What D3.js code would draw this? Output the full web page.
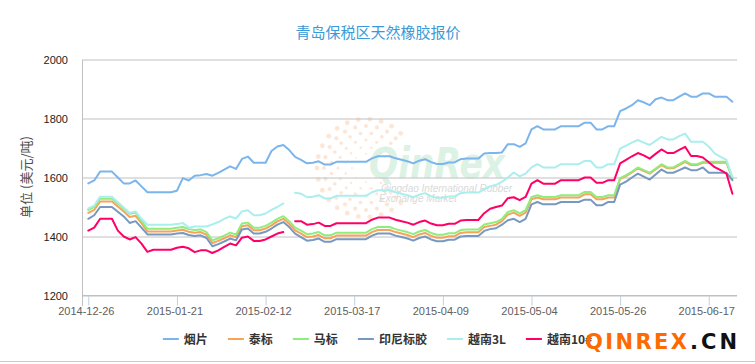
<!DOCTYPE html>
<html>
<head>
<meta charset="utf-8">
<title>青岛保税区天然橡胶报价</title>
<script src="https://cdn.jsdelivr.net/npm/d3@7"></script>
<style>
  body { margin: 0; background: #fff; }
  svg { display: block; font-family: "Liberation Sans", Arial, "Noto Sans CJK SC", sans-serif; }
</style>
</head>
<body>
<script>
// trading days (category axis), a label every 15 points
var dates = [
  "2014-12-26","2014-12-29","2014-12-30","2015-01-05","2015-01-06","2015-01-07","2015-01-08","2015-01-09","2015-01-12","2015-01-13",
  "2015-01-14","2015-01-15","2015-01-16","2015-01-19","2015-01-20","2015-01-21","2015-01-22","2015-01-23","2015-01-26","2015-01-27",
  "2015-01-28","2015-01-29","2015-01-30","2015-02-02","2015-02-03","2015-02-04","2015-02-05","2015-02-06","2015-02-09","2015-02-10",
  "2015-02-12","2015-02-13","2015-02-16","2015-02-17","2015-02-25","2015-02-26","2015-02-27","2015-03-02","2015-03-03","2015-03-04",
  "2015-03-05","2015-03-06","2015-03-10","2015-03-12","2015-03-16","2015-03-17","2015-03-18","2015-03-19","2015-03-20","2015-03-23",
  "2015-03-24","2015-03-25","2015-03-26","2015-03-27","2015-03-30","2015-03-31","2015-04-01","2015-04-02","2015-04-03","2015-04-08",
  "2015-04-09","2015-04-10","2015-04-13","2015-04-14","2015-04-15","2015-04-16","2015-04-17","2015-04-20","2015-04-21","2015-04-22",
  "2015-04-23","2015-04-24","2015-04-27","2015-04-28","2015-04-29","2015-05-04","2015-05-05","2015-05-06","2015-05-07","2015-05-08",
  "2015-05-11","2015-05-12","2015-05-13","2015-05-14","2015-05-15","2015-05-18","2015-05-19","2015-05-20","2015-05-21","2015-05-22",
  "2015-05-26","2015-05-27","2015-05-28","2015-05-29","2015-06-01","2015-06-02","2015-06-03","2015-06-04","2015-06-05","2015-06-08",
  "2015-06-09","2015-06-10","2015-06-11","2015-06-12","2015-06-15","2015-06-17","2015-06-18","2015-06-19","2015-06-23","2015-06-24"
];
var tickDates = ["2014-12-26","2015-01-21","2015-02-12","2015-03-17","2015-04-09","2015-05-04","2015-05-26","2015-06-17"];
var yTicks = [1200, 1400, 1600, 1800, 2000];

var names = ["烟片", "泰标", "马标", "印尼标胶", "越南3L", "越南10#"];
var colors = ["#7cb5ec", "#f7a35c", "#90ed7d", "#7798bf", "#aaeeee", "#ff0066"];

var yanpian = [
  1580,1590,1620,1620,1620,1600,1580,1580,1590,1570, 1550,1550,1550,1550,1550,1555,1598,1590,1606,1608,
  1612,1606,1616,1627,1638,1629,1663,1671,1650,1650, 1650,1690,1705,1710,1693,1670,1660,1648,1650,1655,
  1644,1644,1653,1653,1653,1653,1653,1653,1665,1672, 1672,1672,1665,1660,1655,1648,1657,1662,1652,1646,
  1646,1651,1651,1662,1664,1664,1664,1681,1683,1683, 1685,1713,1713,1704,1716,1763,1774,1763,1763,1763,
  1774,1774,1774,1774,1786,1786,1763,1763,1774,1774, 1825,1834,1845,1862,1855,1845,1865,1871,1862,1862,
  1874,1885,1874,1874,1885,1885,1874,1874,1874,1857
];
var taibiao = [
  1480,1490,1519,1519,1519,1502,1485,1466,1470,1445, 1417,1417,1417,1417,1417,1420,1423,1416,1413,1415,
  1406,1378,1385,1394,1404,1398,1435,1438,1421,1421, 1427,1438,1451,1460,1443,1421,1410,1398,1400,1405,
  1394,1394,1403,1403,1403,1403,1403,1403,1415,1422, 1422,1422,1415,1410,1405,1398,1407,1412,1402,1396,
  1396,1401,1401,1412,1414,1414,1414,1432,1436,1440, 1452,1474,1481,1470,1481,1526,1532,1526,1526,1526,
  1532,1532,1532,1532,1543,1543,1526,1526,1532,1532, 1595,1605,1617,1631,1622,1613,1627,1642,1631,1631,
  1642,1653,1642,1642,1650,1650,1650,1650,1650,1598
];
var mabiao = [
  1490,1500,1528,1528,1528,1511,1494,1477,1481,1453, 1426,1426,1426,1426,1426,1430,1432,1425,1422,1424,
  1415,1387,1394,1403,1413,1407,1444,1447,1430,1430, 1436,1447,1460,1469,1452,1430,1420,1408,1410,1415,
  1404,1404,1413,1413,1413,1413,1413,1413,1425,1432, 1432,1432,1425,1420,1415,1408,1417,1422,1412,1406,
  1406,1411,1411,1422,1424,1424,1424,1441,1445,1449, 1460,1483,1489,1478,1489,1534,1540,1534,1534,1534,
  1540,1540,1540,1540,1551,1551,1534,1534,1540,1540, 1598,1608,1620,1634,1625,1616,1630,1645,1634,1634,
  1645,1656,1645,1645,1653,1653,1653,1653,1653,1596
];
var yinni = [
  1460,1472,1500,1500,1500,1484,1468,1446,1452,1430, 1407,1407,1407,1407,1407,1410,1412,1405,1402,1404,
  1395,1367,1374,1383,1393,1387,1424,1427,1410,1410, 1416,1427,1440,1449,1432,1410,1398,1386,1388,1393,
  1382,1382,1391,1391,1391,1391,1391,1391,1403,1410, 1410,1410,1403,1398,1393,1386,1395,1400,1390,1384,
  1384,1389,1389,1400,1402,1402,1402,1419,1425,1428, 1440,1455,1460,1449,1460,1509,1517,1509,1509,1509,
  1517,1517,1517,1517,1525,1525,1506,1506,1517,1517, 1576,1586,1600,1613,1603,1593,1610,1627,1616,1616,
  1625,1634,1625,1625,1634,1616,1616,1616,1616,1591
];
var yuenan3L = [
  1495,1505,1535,1535,1535,1516,1498,1480,1485,1460, 1440,1440,1440,1440,1440,1442,1446,1430,1434,1434,
  1434,1441,1449,1460,1468,1461,1485,1489,1472,1472, 1478,1490,1500,1512,null,1548,1545,1533,1535,1540,
  1529,1529,1538,1538,1538,1538,1538,1538,1550,1557, 1557,1557,1550,1545,1540,1533,1542,1547,1537,1531,
  1531,1536,1536,1547,1549,1549,1549,1560,1570,1575, 1585,1600,1617,1604,1613,1634,1645,1634,1634,1634,
  1645,1645,1645,1645,1656,1656,1634,1634,1645,1645, 1698,1708,1718,1727,1718,1710,1724,1738,1729,1729,
  1740,1749,1721,1721,1721,1705,1682,1670,1660,1602
];
var yuenan10 = [
  1420,1430,1460,1460,1460,1420,1400,1390,1398,1376, 1348,1355,1355,1355,1355,1362,1365,1360,1347,1353,
  1353,1344,1353,1365,1376,1370,1396,1400,1385,1385, 1390,1400,1410,1415,null,1452,1452,1440,1442,1447,
  1436,1436,1445,1445,1445,1445,1445,1445,1457,1464, 1464,1464,1457,1452,1447,1440,1449,1454,1444,1438,
  1438,1443,1443,1454,1456,1456,1456,1479,1494,1500, 1505,1530,1533,1523,1534,1579,1591,1579,1579,1579,
  1591,1591,1591,1591,1600,1600,1582,1582,1591,1591, 1648,1660,1672,1683,1675,1664,1680,1695,1683,1683,
  1694,1704,1673,1673,1668,1652,1635,1625,1613,1545
];
var series = [yanpian, taibiao, mabiao, yinni, yuenan3L, yuenan10];

var width = 755, height = 364,
    plotLeft = 83, plotRight = 737, plotTop = 59.5, plotBottom = 295.5;

var svg = d3.select("body").append("svg")
    .attr("width", width)
    .attr("height", height);

var x = d3.scalePoint().domain(dates).range([88.3, 732.4]);
var y = d3.scaleLinear().domain([1200, 2000]).range([plotBottom, plotTop]);

// title
svg.append("text")
    .attr("x", 378).attr("y", 38)
    .attr("text-anchor", "middle")
    .style("font-family", "'Noto Sans CJK SC', sans-serif")
    .style("font-size", "15px")
    .style("fill", "#3a9ad9")
    .text("青岛保税区天然橡胶报价");

// watermark (behind the lines)
var wm = svg.append("g").attr("class", "watermark");
var rings = [14, 21, 28, 35, 42, 49];
rings.forEach(function (r, k) {
    var n = Math.round(r / 2.4);
    for (var j = 0; j <= n; j++) {
        var a = (45 + j * 270 / n) * Math.PI / 180;
        wm.append("circle")
            .attr("cx", 366 + r * Math.cos(a))
            .attr("cy", 168 - r * Math.sin(a))
            .attr("r", 0.9 + k * 0.3)
            .attr("fill", "#fcdcc4")
            .attr("opacity", 0.7);
    }
});
wm.append("text")
    .attr("x", 369).attr("y", 178)
    .attr("textLength", 136).attr("lengthAdjust", "spacingAndGlyphs")
    .style("font-family", "'DejaVu Sans', sans-serif")
    .style("font-size", "42px").style("font-weight", "bold").style("font-style", "italic")
    .style("fill", "#d6f0e0").attr("opacity", 0.85)
    .text("QinRex");
wm.append("text")
    .attr("x", 381).attr("y", 192)
    .style("font-size", "10px").style("font-style", "italic").style("fill", "#d9d9d9")
    .text("Qingdao International Rubber");
wm.append("text")
    .attr("x", 379).attr("y", 202)
    .style("font-size", "10px").style("font-style", "italic").style("fill", "#d9d9d9")
    .text("Exchange Market");

// grid + y labels
var yAxis = svg.append("g")
    .attr("transform", "translate(" + plotLeft + ",0)")
    .call(d3.axisLeft(y).tickValues(yTicks).tickSize(-(plotRight - plotLeft)).tickPadding(15).tickFormat(d3.format("d")));
yAxis.select(".domain").remove();
yAxis.selectAll(".tick line").attr("stroke", "#c0c0c0");
yAxis.selectAll(".tick text").style("font-size", "11px").style("fill", "#222");

svg.append("text")
    .attr("transform", "translate(31,177) rotate(-90)")
    .attr("text-anchor", "middle")
    .style("font-family", "'Noto Sans CJK SC', sans-serif")
    .style("font-size", "13px")
    .style("fill", "#4d4d4d")
    .text("单位 (美元/吨)");

// x axis
var xAxis = svg.append("g")
    .attr("transform", "translate(0," + plotBottom + ")")
    .call(d3.axisBottom(x).tickValues(tickDates).tickSize(10).tickSizeOuter(0).tickPadding(1.5));
xAxis.select(".domain").remove();
xAxis.selectAll(".tick line").attr("stroke", "#c0d0e0");
xAxis.selectAll(".tick text").attr("dx", -2.5).style("font-size", "11px").style("fill", "#606060");

svg.append("line")
    .attr("x1", plotLeft).attr("x2", plotRight).attr("y1", plotBottom).attr("y2", plotBottom)
    .attr("stroke", "#c0c0c0");
svg.append("line")
    .attr("x1", plotLeft - 0.5).attr("x2", plotLeft - 0.5).attr("y1", plotTop).attr("y2", plotBottom + 10.5)
    .attr("stroke", "#c0c0c0");

// series
var line = d3.line()
    .defined(function (d) { return d != null; })
    .x(function (d, i) { return x(dates[i]); })
    .y(function (d) { return y(d); });

svg.append("g").selectAll("path.series")
    .data(series)
  .enter().append("path")
    .attr("class", "series")
    .attr("fill", "none")
    .attr("stroke", function (d, i) { return colors[i]; })
    .attr("stroke-width", 2)
    .attr("stroke-linejoin", "round")
    .attr("stroke-linecap", "round")
    .attr("d", line);

// legend
var legend = svg.append("g").attr("class", "legend");
var items = legend.selectAll("g.item")
    .data(names)
  .enter().append("g")
    .attr("class", "item");
items.append("line")
    .attr("x1", 0).attr("x2", 16).attr("y1", 0).attr("y2", 0)
    .attr("stroke-width", 2)
    .attr("stroke", function (d, i) { return colors[i]; });
items.append("text")
    .attr("x", 21).attr("y", 4.5)
    .style("font-family", "'Noto Sans CJK SC', sans-serif")
    .style("font-size", "12px").style("font-weight", "bold").style("fill", "#333")
    .text(function (d) { return d; });

var pos = 0, offsets = [];
items.each(function () {
    offsets.push(pos);
    pos += 21 + d3.select(this).select("text").node().getComputedTextLength() + 20;
});
var total = pos - 20;
items.attr("transform", function (d, i) {
    return "translate(" + (377.5 - total / 2 + offsets[i]) + ",339)";
});

// site mark
svg.append("text")
    .attr("x", 585).attr("y", 349)
    .attr("textLength", 102).attr("lengthAdjust", "spacing")
    .style("font-family", "'DejaVu Sans', sans-serif")
    .style("font-size", "21px").style("font-weight", "bold")
    .style("fill", "#ff6a00")
    .text("QINREX");
svg.append("text")
    .attr("x", 690).attr("y", 349)
    .attr("textLength", 47).attr("lengthAdjust", "spacing")
    .style("font-family", "'DejaVu Sans', sans-serif")
    .style("font-size", "21px").style("font-weight", "bold")
    .style("fill", "#111")
    .text(".CN");

svg.append("line")
    .attr("x1", 0).attr("x2", width).attr("y1", 361.5).attr("y2", 361.5)
    .attr("stroke", "#b7cfe9");
</script>
</body>
</html>
